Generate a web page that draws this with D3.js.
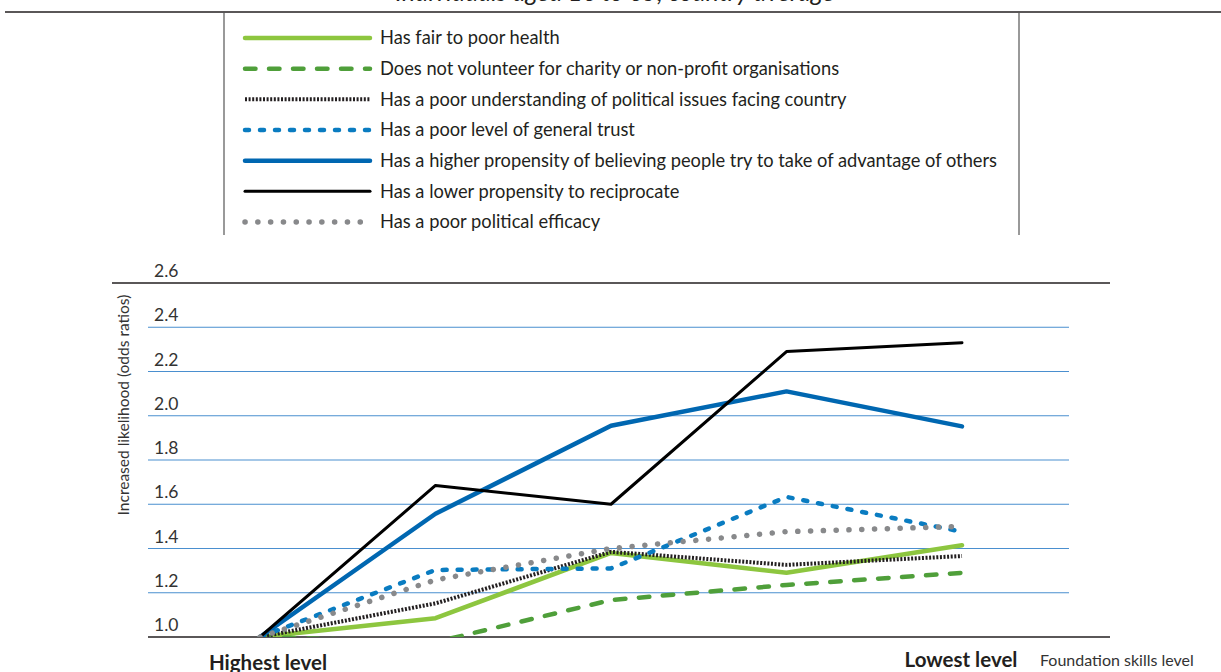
<!DOCTYPE html>
<html lang="en">
<head>
    <meta charset="UTF-8">
    <title>Foundation skills and social outcomes</title>
    <script src="https://d3js.org/d3.v7.min.js"></script>
    <style>
        body {
            margin: 0;
            padding: 0;
            background: #fff;
            font-family: Lato, "Open Sans", sans-serif;
        }
        svg text {
            fill: #231f20;
        }
        .tick-label {
            font-size: 17.5px;
            fill: #333;
        }
        .legend text {
            font-size: 18.3px;
        }
    </style>
</head>
<body>
    <svg id="chart" width="1221" height="672"></svg>

    <script>
        // Data
        const levels = ["Level 4/5", "Level 3", "Level 2", "Level 1", "Below Level 1"];
        const levelLabels = ["Highest level", "", "", "", "Lowest level"];
        const yTicks = [1.0, 1.2, 1.4, 1.6, 1.8, 2.0, 2.2, 2.4, 2.6];

        const seriesNames = [
            "Has fair to poor health",
            "Does not volunteer for charity or non-profit organisations",
            "Has a poor understanding of political issues facing country",
            "Has a poor level of general trust",
            "Has a higher propensity of believing people try to take of advantage of others",
            "Has a lower propensity to reciprocate",
            "Has a poor political efficacy"
        ];
        const poorHealth      = [1.00, 1.085, 1.38, 1.29, 1.415];
        const noVolunteer     = [1.00, 0.977, 1.167, 1.235, 1.29];
        const poorPolitical   = [1.00, 1.152, 1.385, 1.326, 1.366];
        const poorTrust       = [1.00, 1.303, 1.31, 1.633, 1.476];
        const advantageOthers = [1.00, 1.557, 1.955, 2.11, 1.952];
        const lowReciprocate  = [1.00, 1.685, 1.60, 2.29, 2.33];
        const poorEfficacy    = [1.00, 1.258, 1.40, 1.476, 1.50];

        const seriesValues = [poorHealth, noVolunteer, poorPolitical, poorTrust,
                              advantageOthers, lowReciprocate, poorEfficacy];

        // line styles per series
        const styles = [
            { color: "#8dc63f", width: 4.5, dash: null, cap: "round" },
            { color: "#4f9f3a", width: 4.5, dash: "10.5,13.5", cap: "round" },
            { color: "#231f20", width: 4, dash: "2,1.6", cap: "butt" },
            { color: "#0a7cc1", width: 4.5, dash: "4,11", cap: "round" },
            { color: "#0067b1", width: 4.5, dash: null, cap: "round" },
            { color: "#000000", width: 3, dash: null, cap: "round" },
            { color: "#88898b", width: 5.5, dash: "0.1,12.7", cap: "round" }
        ];

        const svg = d3.select("#chart");

        // header: cut-off subtitle + rule + legend box
        svg.append("text")
            .attr("x", 615)
            .attr("y", 1)
            .attr("text-anchor", "middle")
            .style("font-size", "25px")
            .style("font-style", "italic")
            .text("Individuals aged 16 to 65, country average");

        svg.append("line")
            .attr("x1", 5).attr("x2", 1221)
            .attr("y1", 12).attr("y2", 12)
            .attr("stroke", "#231f20").attr("stroke-width", 1.5);

        [224, 1019].forEach(x => {
            svg.append("line")
                .attr("x1", x).attr("x2", x)
                .attr("y1", 12).attr("y2", 235)
                .attr("stroke", "#555").attr("stroke-width", 1.2);
        });

        const legend = svg.append("g").attr("class", "legend");
        const legendY = d3.scalePoint().domain(seriesNames).range([38, 222]);

        const item = legend.selectAll("g")
            .data(seriesNames)
            .enter().append("g")
            .attr("transform", d => `translate(0,${legendY(d)})`);

        item.append("line")
            .attr("x1", 245).attr("x2", 370)
            .attr("stroke", (d, i) => styles[i].color)
            .attr("stroke-width", (d, i) => styles[i].width)
            .attr("stroke-dasharray", (d, i) => styles[i].dash)
            .attr("stroke-linecap", (d, i) => styles[i].cap);

        item.append("text")
            .attr("x", 380)
            .attr("dy", "0.35em")
            .text(d => d);

        // chart area
        const x = d3.scalePoint().domain(levels).range([260, 962]);
        const y = d3.scaleLinear().domain([1.0, 2.6]).range([637, 283]);

        // gridlines
        svg.append("g")
            .selectAll("line")
            .data(yTicks.filter(t => t > 1.0 && t < 2.6))
            .enter().append("line")
            .attr("x1", 148).attr("x2", 1069)
            .attr("y1", d => y(d)).attr("y2", d => y(d))
            .attr("stroke", "#4a8fcf")
            .attr("stroke-width", 1.2);

        // top and bottom rules
        svg.append("line")
            .attr("x1", 112).attr("x2", 1110)
            .attr("y1", y(2.6)).attr("y2", y(2.6))
            .attr("stroke", "#231f20").attr("stroke-width", 1.3);
        svg.append("line")
            .attr("x1", 148).attr("x2", 1110)
            .attr("y1", y(1.0)).attr("y2", y(1.0))
            .attr("stroke", "#231f20").attr("stroke-width", 1.3);

        // y tick labels, sitting above their lines
        svg.append("g")
            .selectAll("text")
            .data(yTicks)
            .enter().append("text")
            .attr("class", "tick-label")
            .attr("x", 154)
            .attr("y", d => y(d) - 6)
            .text(d3.format(".1f"));

        svg.append("text")
            .attr("transform", "translate(129,405) rotate(-90)")
            .attr("text-anchor", "middle")
            .style("font-size", "15.5px")
            .style("fill", "#333")
            .text("Increased likelihood (odds ratios)");

        // x labels at the ends only
        svg.append("g")
            .selectAll("text")
            .data(levels)
            .enter().append("text")
            .attr("x", d => x(d) + (d === levels[0] ? 8 : -1))
            .attr("y", d => d === levels[0] ? 670 : 667)
            .attr("text-anchor", "middle")
            .style("font-size", "20.5px")
            .style("font-weight", "bold")
            .text((d, i) => levelLabels[i]);

        svg.append("text")
            .attr("x", 1040)
            .attr("y", 666)
            .style("font-size", "16px")
            .style("fill", "#333")
            .text("Foundation skills level");

        // lines, clipped to the plot area
        svg.append("clipPath").attr("id", "plot")
            .append("rect")
            .attr("x", 140).attr("y", 280)
            .attr("width", 980).attr("height", 637 - 280);

        const line = d3.line()
            .x((d, i) => x(levels[i]))
            .y(d => y(d));

        svg.append("g")
            .attr("clip-path", "url(#plot)")
            .selectAll("path")
            .data(seriesValues)
            .enter().append("path")
            .attr("d", line)
            .attr("fill", "none")
            .attr("stroke", (d, i) => styles[i].color)
            .attr("stroke-width", (d, i) => styles[i].width)
            .attr("stroke-dasharray", (d, i) => styles[i].dash)
            .attr("stroke-linecap", (d, i) => styles[i].cap)
            .attr("stroke-linejoin", "round");
    </script>
</body>
</html>
